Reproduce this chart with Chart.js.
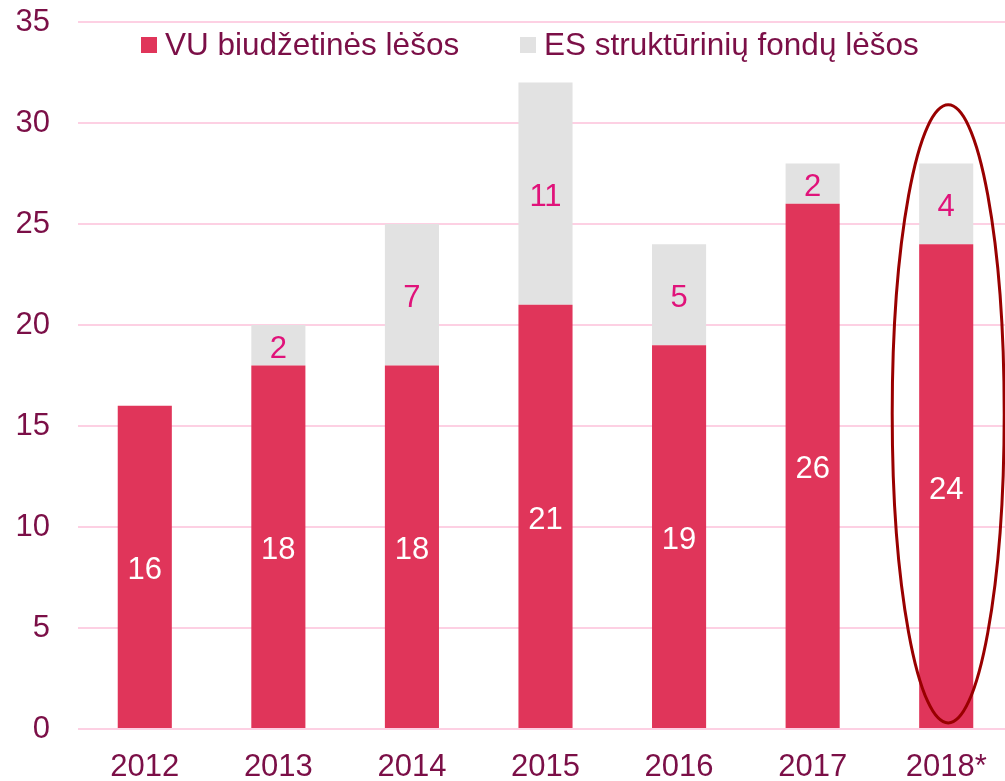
<!DOCTYPE html>
<html>
<head>
<meta charset="utf-8">
<script src="https://cdn.jsdelivr.net/npm/chart.js@4/dist/chart.umd.min.js"></script>
<style>
    html, body { margin: 0; padding: 0; background: #fff; overflow: hidden; }
    #wrap { width: 1013px; height: 781px; position: relative; }
</style>
</head>
<body>
<div id="wrap"><canvas id="chart"></canvas></div>
<script>
// Chart data
const years = ['2012', '2013', '2014', '2015', '2016', '2017', '2018*'];
const vuFunds = [16, 18, 18, 21, 19, 26, 24];
const esFunds = [0, 2, 7, 11, 5, 2, 4];
const yTicks = [0, 5, 10, 15, 20, 25, 30, 35];

const textColor = '#7b0f47';
const fontFamily = '"Liberation Sans", Arial, sans-serif';

// Labels in the middle of each segment
const segmentLabels = {
    id: 'segmentLabels',
    afterDatasetsDraw(chart) {
        const ctx = chart.ctx;
        ctx.save();
        ctx.font = '31px ' + fontFamily;
        ctx.textAlign = 'center';
        ctx.textBaseline = 'middle';
        chart.data.datasets.forEach((ds, i) => {
            const meta = chart.getDatasetMeta(i);
            meta.data.forEach((bar, j) => {
                const v = ds.data[j];
                if (!v) return;
                ctx.fillStyle = ds.labelColor;
                ctx.fillText(String(v), bar.x, (bar.y + bar.base) / 2 + 4);
            });
        });
        ctx.restore();
    }
};

// Legend drawn over the plot, like the original
const topLegend = {
    id: 'topLegend',
    afterDraw(chart) {
        const ctx = chart.ctx;
        const starts = [141, 520];
        ctx.save();
        ctx.font = '31.5px ' + fontFamily;
        ctx.textBaseline = 'middle';
        chart.data.datasets.forEach((ds, i) => {
            const x = starts[i];
            ctx.fillStyle = ds.backgroundColor;
            ctx.fillRect(x, 37, 16, 16);
            ctx.fillStyle = textColor;
            ctx.fillText(ds.label, x + 24, 46);
        });
        ctx.restore();
    }
};

// Ellipse around the last (forecast) column
const ellipseMark = {
    id: 'ellipseMark',
    afterDraw(chart) {
        const x = chart.scales.x.getPixelForValue(years.length - 1) + 2;
        const yTop = chart.scales.y.getPixelForValue(30.9);
        const yBot = chart.scales.y.getPixelForValue(0.3);
        const ctx = chart.ctx;
        ctx.save();
        ctx.strokeStyle = '#990000';
        ctx.lineWidth = 3;
        ctx.beginPath();
        ctx.ellipse(x, (yTop + yBot) / 2, 56, (yBot - yTop) / 2, 0, 0, Math.PI * 2);
        ctx.stroke();
        ctx.restore();
    }
};

const ctx = document.getElementById('chart').getContext('2d');
new Chart(ctx, {
    type: 'bar',
    data: {
        labels: years,
        datasets: [{
            label: 'VU biudžetinės lėšos',
            data: vuFunds,
            backgroundColor: '#e0355a',
            labelColor: '#ffffff',
            categoryPercentage: 1,
            barPercentage: 0.405
        }, {
            label: 'ES struktūrinių fondų lėšos',
            data: esFunds,
            backgroundColor: '#e2e2e2',
            labelColor: '#e0137a',
            categoryPercentage: 1,
            barPercentage: 0.405
        }]
    },
    options: {
        responsive: true,
        maintainAspectRatio: false,
        animation: false,
        layout: { padding: { top: 22, right: 0, bottom: 0, left: 0 } },
        plugins: {
            legend: { display: false },
            tooltip: { enabled: false }
        },
        scales: {
            x: {
                stacked: true,
                grid: { display: false, drawTicks: false },
                border: { display: false },
                ticks: {
                    color: textColor,
                    font: { family: fontFamily, size: 31 },
                    padding: 20,
                    maxRotation: 0
                },
                afterFit(scale) {
                    scale.height = 52;
                    scale.paddingLeft = 0;
                    scale.paddingRight = 0;
                }
            },
            y: {
                stacked: true,
                min: 0,
                max: 35,
                grid: { color: '#fdd0e3', lineWidth: 2, drawTicks: false },
                border: { display: false },
                afterBuildTicks(scale) {
                    scale.ticks = yTicks.map(v => ({ value: v }));
                },
                ticks: {
                    color: textColor,
                    font: { family: fontFamily, size: 31 },
                    padding: 28
                },
                afterFit(scale) {
                    scale.width = 78;
                    scale.paddingTop = 0;
                    scale.paddingBottom = 0;
                }
            }
        }
    },
    plugins: [segmentLabels, topLegend, ellipseMark]
});
</script>
</body>
</html>
